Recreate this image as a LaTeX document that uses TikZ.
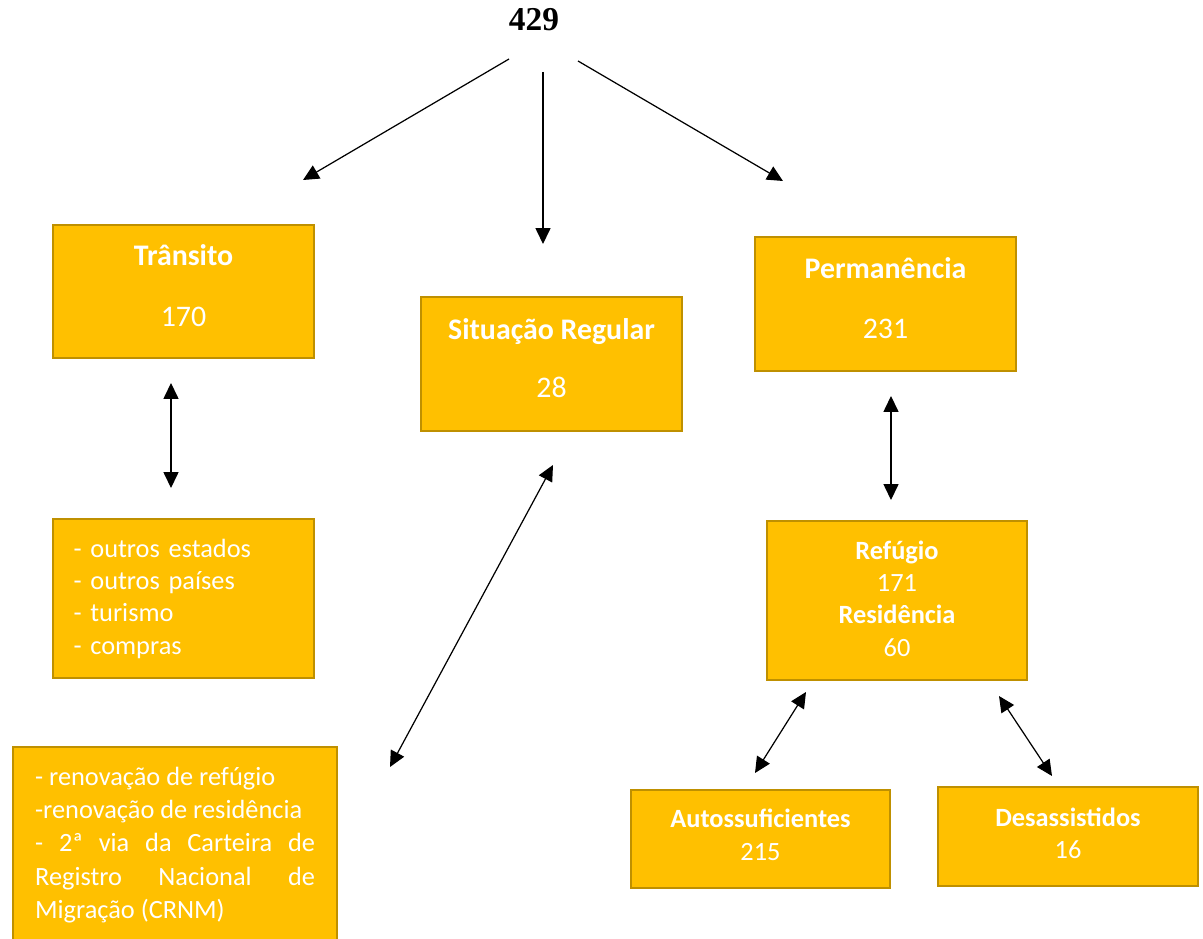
\documentclass[tikz,border=0pt]{standalone}
\usepackage{fontspec}
\setmainfont{Carlito}
\newfontfamily\totalfont{Liberation Serif}
\usetikzlibrary{arrows.meta}
\definecolor{cCaixa}{HTML}{FFC000}
\definecolor{cBorda}{HTML}{BF9000}

\begin{document}
\begin{tikzpicture}[
    x=0.02cm, y=-0.02cm, font=\fontsize{15}{18.4}\selectfont,
    caixa/.style={draw=cBorda, line width=1.3pt, fill=cCaixa, text=white,
                  align=center, inner sep=0pt},
    grande/.style={caixa, font=\fontsize{17}{20.7}\selectfont},
    total/.style={font=\totalfont\bfseries\fontsize{19}{22}\selectfont},
    seta/.style={draw=black, line width=0.7pt,
                 -{Triangle[length=9pt, width=8.5pt]}},
    dupla/.style={draw=black, line width=0.7pt,
                  {Triangle[length=9pt, width=8.5pt]}-{Triangle[length=9pt, width=8.5pt]}},
]
\useasboundingbox (0,0) rectangle (1203,939);
\clip (0,0) rectangle (1203,939);

% ===================== Total =====================
\node[total] (total) at (534,20) {429};

% ===================== Primeiro nível =====================
% a linha vazia no fim sobe o texto um pouco dentro da caixa
\node[grande, minimum width=5.22cm, minimum height=2.66cm] (transito) at (183.5,291.5)
      {\textbf{Trânsito}\\[13.9pt]170\\[-13.9pt]\mbox{}};
\node[grande, minimum width=5.22cm, minimum height=2.68cm] (regular) at (551.5,364)
      {\textbf{Situação Regular}\\[12.3pt]28\\[-13.9pt]\mbox{}};
\node[grande, minimum width=5.22cm, minimum height=2.68cm] (permanencia) at (885.5,304)
      {\textbf{Permanência}\\[13.4pt]231\\[-13.9pt]\mbox{}};

% ===================== Segundo nível =====================
\node[caixa, align=left, text width=4.4cm, minimum width=5.22cm, minimum height=3.18cm]
      (motivos) at (183.5,598.5)
      {- outros estados\\- outros países\\- turismo\\- compras};
\node[caixa, anchor=north west, align=justify, text width=5.6cm, inner xsep=0.44cm,
      inner ysep=0.4cm, minimum width=6.48cm, font=\fontsize{15}{18.9}\selectfont]
      (servicos) at (12,746)
      {\hyphenpenalty=10000 - renovação de refúgio\\-renovação de residência\\- 2ª via da
       Carteira de\linebreak Registro Nacional de\linebreak Migração (CRNM)\par\vspace*{12pt}};
\node[caixa, minimum width=5.2cm, minimum height=3.18cm] (tipos) at (897,600.5)
      {\textbf{Refúgio}\\171\\\textbf{Residência}\\60\\[-16pt]\mbox{}};

% ===================== Terceiro nível =====================
\node[caixa, minimum width=5.18cm, minimum height=1.96cm] (auto) at (760.5,839)
      {\textbf{Autossuficientes}\\215\\[-13.4pt]\mbox{}};
\node[caixa, minimum width=5.2cm, minimum height=1.98cm] (desassistidos) at (1068,836.5)
      {\textbf{Desassistidos}\\16\\[-15pt]\mbox{}};

% ===================== Setas =====================
% as setas não tocam as caixas, por isso saem de pontos soltos
\coordinate (totalE) at (509,59);   \coordinate (transitoN) at (303,180);
\coordinate (totalC) at (543,72);   \coordinate (regularN) at (543,244);
\coordinate (totalD) at (578,61);   \coordinate (permanenciaN) at (783,181);
\coordinate (transitoS) at (171,383);  \coordinate (motivosN) at (171,488);
\coordinate (regularS) at (553,465);   \coordinate (servicosN) at (390,767);
\coordinate (permanenciaS) at (891,396); \coordinate (tiposN) at (891,500);
\coordinate (tiposSE) at (806,692);    \coordinate (autoN) at (755,773);
\coordinate (tiposSD) at (999,696);    \coordinate (desassistidosN) at (1052,776);

\foreach \a/\b in {totalE/transitoN, totalC/regularN, totalD/permanenciaN}
    \draw[seta] (\a) -- (\b);
\foreach \a/\b in {transitoS/motivosN, regularS/servicosN, permanenciaS/tiposN,
                   tiposSE/autoN, tiposSD/desassistidosN}
    \draw[dupla] (\a) -- (\b);

\end{tikzpicture}
\end{document}
